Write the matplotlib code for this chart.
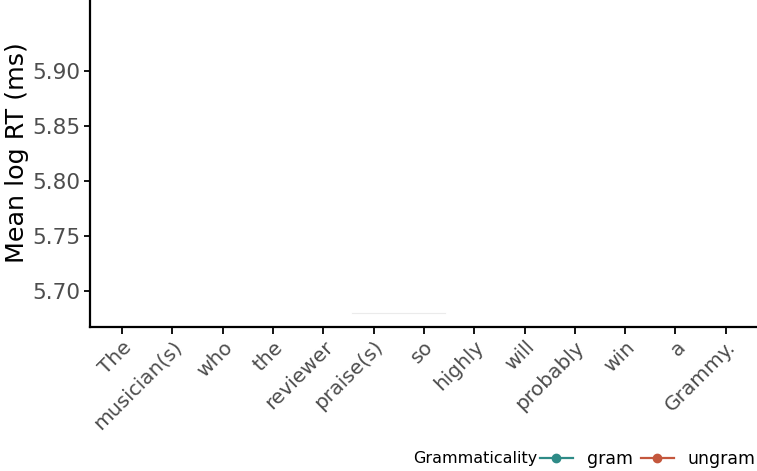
import matplotlib.pyplot as plt
from matplotlib.lines import Line2D

# sentence regions on the x axis
words = ["The", "musician(s)", "who", "the", "reviewer", "praise(s)", "so",
         "highly", "will", "probably", "win", "a", "Grammy."]

# y axis range and ticks (mean log RT)
y_ticks = [5.70, 5.75, 5.80, 5.85, 5.90]
y_lim = (5.667, 5.9645)

# faint reference segment
seg_x = [4.57, 6.42]
seg_y = [5.68, 5.68]

# legend levels
groups = ["gram", "ungram"]
colors = ["#2e8b87", "#c4573d"]

fig = plt.figure(figsize=(7.57, 4.71), dpi=100)
ax = fig.add_axes([90 / 757, 1 - 327 / 471, 667 / 757, 327 / 471])

ax.plot(seg_x, seg_y, color="#ebebeb", lw=0.8)

ax.set_xlim(-0.636, 12.62)
ax.set_ylim(*y_lim)
ax.set_yticks(y_ticks)
ax.set_yticklabels([f"{v:.2f}" for v in y_ticks])

ax.set_xticks(range(len(words)))
ax.set_xticklabels(words, rotation=45, ha="right", va="top",
                   rotation_mode="anchor", fontsize=14.5, color="#4d4d4d")

ax.tick_params(axis="y", labelsize=15.5, labelcolor="#4d4d4d", length=4.5,
               width=1.3, pad=2.5)
ax.tick_params(axis="x", length=5, width=1.3, pad=2.5)
ax.set_ylabel("Mean log RT (ms)", fontsize=18.3)
ax.yaxis.set_label_coords(-0.092, 0.532)

for side in ["top", "right"]:
    ax.spines[side].set_visible(False)
for side in ["left", "bottom"]:
    ax.spines[side].set_linewidth(1.6)

# legend along the bottom
fig.text(413 / 757, 1 - 459 / 471, "Grammaticality", fontsize=11.5,
         va="center", ha="left")
handles = [Line2D([0], [0], color=c, lw=1.6, marker="o", markersize=6)
           for c in colors]
fig.legend(handles, groups, ncol=2, loc="center left",
           bbox_to_anchor=(540 / 757, 1 - 459 / 471), frameon=False,
           fontsize=12.5, handlelength=1.9, handletextpad=0.8,
           columnspacing=0.45, borderaxespad=0, borderpad=0)

fig.savefig("out.png", dpi=100)
